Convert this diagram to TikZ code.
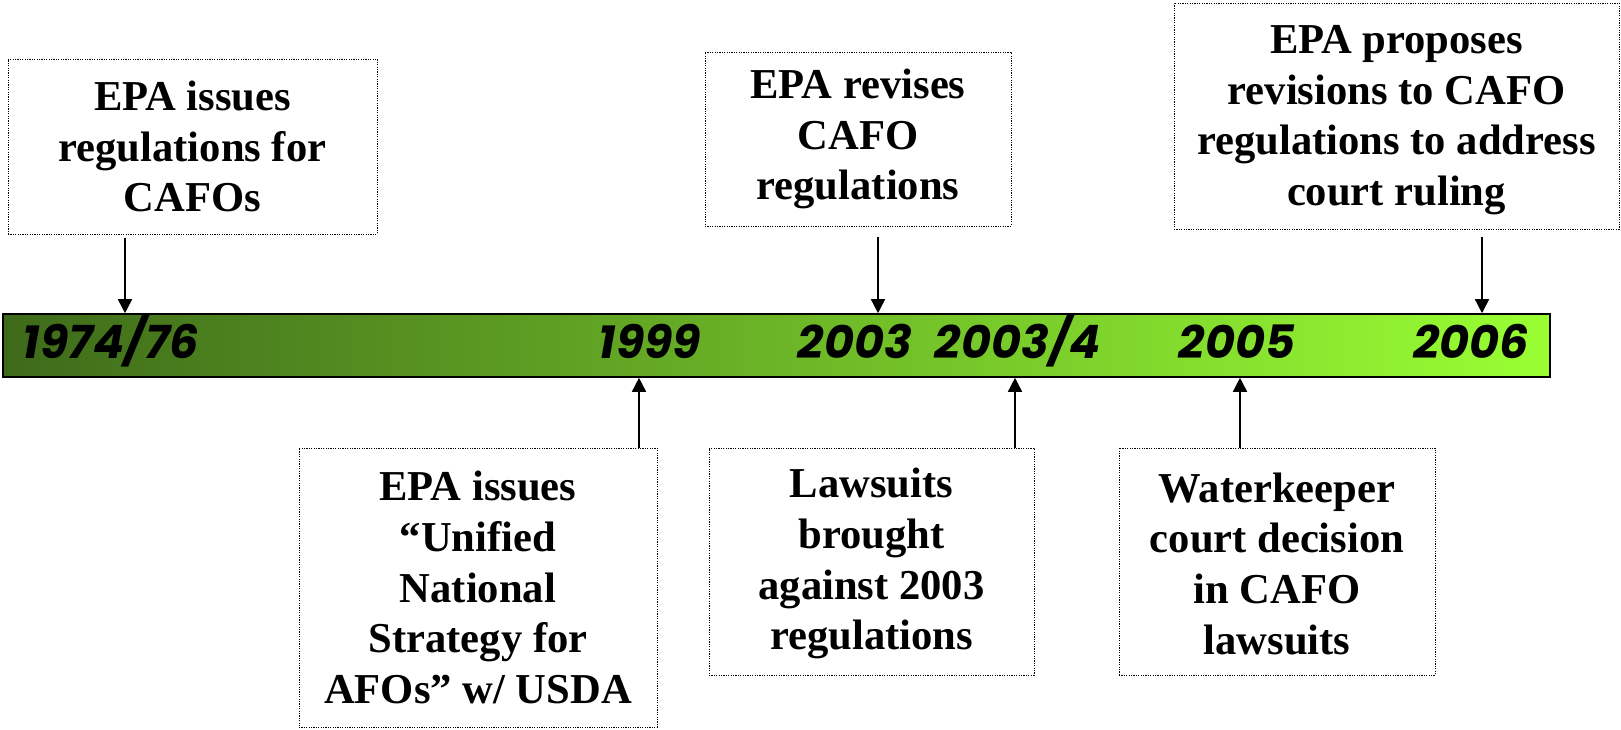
\documentclass[tikz,border=0pt]{standalone}
\usepackage{fontspec}
\setmainfont{Liberation Serif}
\newfontfamily\yearfont{Poppins}
\usetikzlibrary{shapes,arrows.meta,calc}
\definecolor{bardark}{RGB}{62,106,26}
\definecolor{barlight}{RGB}{153,255,51}
\tikzstyle{event} = [rectangle, draw, dash pattern=on 0.6pt off 0.6pt, line width=0.5pt,
    align=center, inner sep=0pt, font=\fontsize{21.3}{25.3}\selectfont\bfseries]
\tikzstyle{bar} = [rectangle, draw, line width=0.8pt, left color=bardark, right color=barlight,
    minimum width=773.5pt, minimum height=31.5pt, inner sep=0pt]
\tikzstyle{year} = [font=\yearfont\fontsize{23}{23}\selectfont\bfseries\itshape,
    text height=16.3pt, text depth=0pt, inner sep=0pt]
\tikzstyle{line} = [draw, line width=0.8pt, -{Triangle[length=7pt,width=7pt]}]
\begin{document}
\begin{tikzpicture}[x=0.5pt, y=-0.5pt]
    \useasboundingbox (0,0) rectangle (1621,729);
    % Place nodes
    \node [bar] (bar) at (776.5,345.5) {};
    \node [year] (y1974) at (111,342) {1974/76};
    \node [year, right of=y1974, node distance=269.5pt] (y1999) {1999};
    \node [year, right of=y1999, node distance=102.5pt] (y2003) {2003};
    \node [year, right of=y2003, node distance=81.5pt] (y2004) {2003/4};
    \node [year, right of=y2004, node distance=109.5pt] (y2005) {2005};
    \node [year, right of=y2005, node distance=117pt] (y2006) {2006};
    \node [event, minimum width=184.5pt, minimum height=87.5pt] (b1974) at (192.5,146.5)
        {EPA issues\\regulations for\\CAFOs};
    \node [event, minimum width=153pt, minimum height=87pt] (b2003) at (858,139)
        {EPA revises\\CAFO\\regulations};
    \node [event, minimum width=222.5pt, minimum height=113pt] (b2006) at (1396.5,116)
        {\rule{0pt}{18pt}EPA proposes\\revisions to CAFO\\regulations to address\\court ruling};
    \node [event, minimum width=179pt, minimum height=139.5pt] (b1999) at (478,587.5)
        {EPA issues\\“Unified\\National\\Strategy for\\AFOs” w/ USDA};
    \node [event, minimum width=162.5pt, minimum height=113.5pt] (b2004) at (871.5,561.5)
        {\rule{0pt}{17pt}Lawsuits\\brought\\against 2003\\regulations};
    \node [event, minimum width=158pt, minimum height=113.5pt] (b2005) at (1277,561.5)
        {\rule{0pt}{17pt}Waterkeeper\\court decision\\in CAFO\\lawsuits};
    % Arrow positions on the bar
    \coordinate (a1974) at (125,0);
    \coordinate (a2003) at (878,0);
    \coordinate (a2006) at (1482,0);
    \coordinate (a1999) at (639,0);
    \coordinate (a2004) at (1015,0);
    \coordinate (a2005) at (1240,0);
    % Draw edges
    \path [line] ([yshift=-1.5pt] b1974.south -| a1974) -- (bar.north -| a1974);
    \path [line] ([yshift=-5pt] b2003.south -| a2003) -- (bar.north -| a2003);
    \path [line] ([yshift=-3.5pt] b2006.south -| a2006) -- (bar.north -| a2006);
    \path [line] (b1999.north -| a1999) -- (bar.south -| a1999);
    \path [line] (b2004.north -| a2004) -- (bar.south -| a2004);
    \path [line] (b2005.north -| a2005) -- (bar.south -| a2005);
\end{tikzpicture}
\end{document}
